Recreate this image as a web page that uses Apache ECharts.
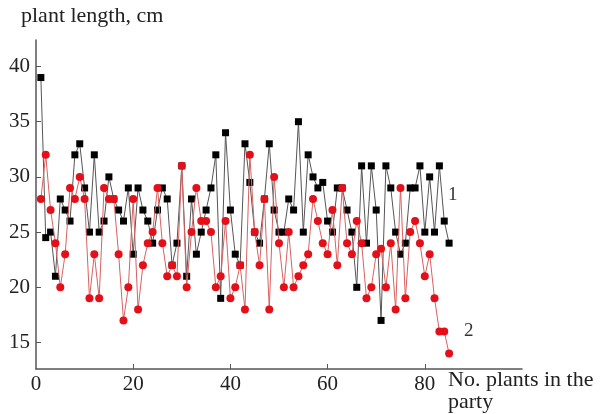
<!DOCTYPE html>
<html>
<head>
<meta charset="utf-8">
<script src="https://cdn.jsdelivr.net/npm/echarts@6/dist/echarts.min.js"></script>
<style>
  html, body { margin: 0; padding: 0; background: #fff; }
  #chart { width: 600px; height: 414px; }
</style>
</head>
<body>
<div id="chart"></div>
<script>
// plant length, cm - series 1 (black squares) and series 2 (red circles)
const lengthSeries1 = [
  39, 24.5, 25, 21, 28, 27, 26, 32, 33, 29, 25, 32, 25, 26, 30, 28, 27, 26, 29, 23,
  29, 27, 26, 24, 27, 29, 28, 22, 24, 31, 21, 28, 23, 25, 27, 29, 32, 19, 34, 27,
  23, 22, 33, 29.5, 25, 24, 28, 33, 27, 25, 25, 28, 27, 35, 25, 32, 30, 29, 29.5, 26,
  25, 29, 29, 27, 25, 20, 31, 24, 31, 27, 17, 31, 29, 25, 23, 24, 29, 29, 31, 25,
  30, 25, 31, 26, 24
];
const lengthSeries2 = [
  28, 32, 27, 24, 20, 23, 29, 28, 30, 28, 19, 23, 19, 29, 28, 28, 23, 17, 20, 28,
  18, 22, 24, 25, 29, 24, 21, 22, 21, 31, 20, 25, 29, 26, 26, 25, 20, 21, 26, 19,
  20, 22, 18, 32, 25, 22, 28, 18, 30, 24, 20, 25, 20, 21, 22, 23, 28, 26, 24, 23,
  27, 22, 29, 24, 23, 26, 24, 19, 20, 23, 23.5, 20, 24, 18, 29, 19, 25, 26, 24, 21,
  23, 19, 16, 16, 14
];
const plantNo = lengthSeries1.map((v, i) => i + 1);
const xTicks = [20, 40, 60, 80];
const xLabels = [0, 20, 40, 60, 80];
const yTicks = [15, 20, 25, 30, 35, 40];

const font = "'Liberation Serif', 'DejaVu Serif', serif";
const chart = echarts.init(document.getElementById("chart"));

const option = {
  animation: false,
  grid: { left: 36, right: 78, top: 40, bottom: 45 },
  xAxis: {
    type: "value",
    min: 0,
    max: 100,
    axisLine: { lineStyle: { color: "#555", width: 1.5 } },
    axisTick: { inside: true, length: 5, customValues: xTicks, lineStyle: { color: "#555" } },
    axisLabel: { customValues: xLabels, color: "#222", fontFamily: font, fontSize: 21, margin: 5 },
    splitLine: { show: false }
  },
  yAxis: {
    type: "value",
    min: 12.6,
    max: 42.4,
    axisLine: { show: true, lineStyle: { color: "#555", width: 1.5 } },
    axisTick: { show: true, inside: true, length: 5, customValues: yTicks, lineStyle: { color: "#555" } },
    axisLabel: { customValues: yTicks, color: "#222", fontFamily: font, fontSize: 21, margin: 6 },
    splitLine: { show: false }
  },
  graphic: [
    { type: "text", left: 21, top: 5, style: { text: "plant length, cm", font: "22px " + font, fill: "#222" } },
    { type: "text", left: 448, top: 369, style: { text: "No. plants in the\nparty", font: "22px " + font, fill: "#222", lineHeight: 22 } },
    { type: "text", left: 448, top: 186, style: { text: "1", font: "19px " + font, fill: "#333" } },
    { type: "text", left: 464, top: 322, style: { text: "2", font: "19px " + font, fill: "#333" } }
  ],
  series: [
    {
      type: "line",
      data: plantNo.map((n, i) => [n, lengthSeries1[i]]),
      symbol: "rect",
      symbolSize: 7,
      itemStyle: { color: "#000" },
      lineStyle: { color: "#555", width: 1 },
      z: 2
    },
    {
      type: "line",
      data: plantNo.map((n, i) => [n, lengthSeries2[i]]),
      symbol: "circle",
      symbolSize: 8,
      itemStyle: { color: "#e3101a" },
      lineStyle: { color: "#d9605f", width: 1 },
      z: 3
    }
  ]
};
chart.setOption(option);
</script>
</body>
</html>
